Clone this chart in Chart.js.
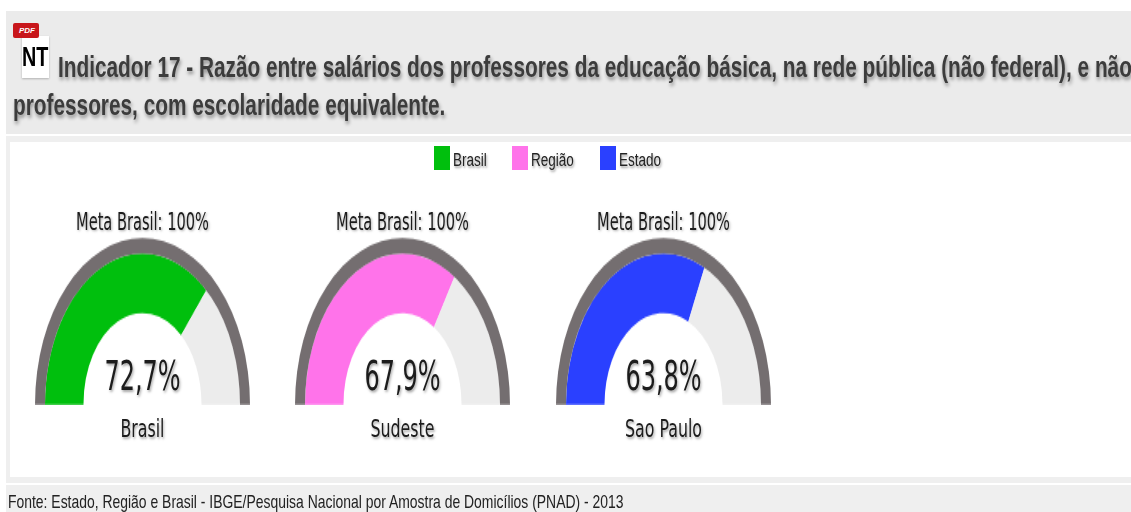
<!DOCTYPE html>
<html lang="pt">
<head>
<meta charset="utf-8">
<title>Indicador 17</title>
<script src="https://cdn.jsdelivr.net/npm/chart.js@4/dist/chart.umd.min.js"></script>
<style>
html, body { margin: 0; padding: 0; background: #fff; overflow: hidden; }
#page { position: relative; width: 1131px; height: 512px; overflow: hidden; }
.box { position: absolute; }
.txt { position: absolute; white-space: nowrap; transform-origin: left top; }
.titulo { font: bold 20px "Liberation Sans", Arial, sans-serif; color: #3c3c3c; text-shadow: 1px 2px 3px rgba(0,0,0,.4); filter: blur(0.3px); }
.legenda { font: 13px "Liberation Sans", Arial, sans-serif; color: #222; text-shadow: 1px 1px 2px rgba(0,0,0,.4); }
.gauge { font-family: "DejaVu Sans", sans-serif; color: #1c1c1c; text-shadow: 1px 1px 2px rgba(0,0,0,.35); text-align: center; transform-origin: center top; }
.fonte { font: 14px "Liberation Sans", Arial, sans-serif; color: #222; filter: blur(0.3px); }
canvas { position: absolute; transform-origin: center bottom; }
</style>
</head>
<body>
<div id="page">
    <div class="box" style="left:6px;top:11px;width:1125px;height:123px;background:#ebebeb"></div>
    <div class="box" style="left:6px;top:136px;width:1125px;height:347px;background:#efefef"></div>
    <div class="box" style="left:10px;top:142px;width:1121px;height:335px;background:#fff"></div>
    <div class="box" style="left:6px;top:485px;width:1125px;height:27px;background:#efefef"></div>

    <div class="box" style="left:22px;top:36px;width:27px;height:42px;background:#fff;box-shadow:0 1px 2px rgba(0,0,0,.25)"></div>
    <div class="box" style="left:13px;top:23px;width:26px;height:15px;background:#c8161b;border-radius:2px"></div>
    <div class="txt" style="left:19px;top:26px;font:italic bold 8px 'Liberation Sans';color:#fff">PDF</div>
    <div class="txt" style="left:22px;top:41px;font:bold 22px 'Liberation Sans';color:#000;transform:scale(0.9,1.25)">NT</div>

    <div class="txt titulo" style="left:58px;top:50px;transform:scale(1.04,1.5)">Indicador 17 - Razão entre salários dos professores da educação básica, na rede pública (não federal), e não</div>
    <div class="txt titulo" style="left:13px;top:88px;transform:scale(1.04,1.5)">professores, com escolaridade equivalente.</div>

    <div id="legenda"></div>
    <div id="gauges"></div>

    <div class="txt fonte" style="left:8px;top:491px;transform:scale(0.995,1.3)">Fonte: Estado, Região e Brasil - IBGE/Pesquisa Nacional por Amostra de Domicílios (PNAD) - 2013</div>
</div>
<script>
"use strict";
var categorias = ["Brasil", "Sudeste", "Sao Paulo"];
var valores = [72.7, 67.9, 63.8];
var metaBrasil = 100;
var legendaNomes = ["Brasil", "Região", "Estado"];
var cores = ["#00bf0d", "#ff73ea", "#2a40ff"];
var corRestante = "#ececec";
var corAnel = "#746e70";

// posicoes na tela
var centros = [142.5, 402.5, 663.5];
var legendaX = [434, 512, 600];
var base = 405;
var escalaY = 1.55;

function addEl(pai, classe, css, texto) {
    var el = document.createElement("div");
    el.className = classe;
    el.style.cssText = css;
    if (texto) {
        el.textContent = texto;
    }
    pai.appendChild(el);
    return el;
}

var legenda = document.getElementById("legenda");
for (var i = 0; i < legendaNomes.length; i++) {
    addEl(legenda, "box", "left:" + legendaX[i] + "px;top:146px;width:16px;height:24px;background:" + cores[i]);
    addEl(legenda, "txt legenda", "left:" + (legendaX[i] + 19) + "px;top:150px;transform:scale(1.04,1.35)", legendaNomes[i]);
}

var gauges = document.getElementById("gauges");
for (var i = 0; i < categorias.length; i++) {
    var cx = centros[i];
    var canvas = document.createElement("canvas");
    canvas.width = 215;
    canvas.height = 108;
    canvas.style.cssText = "left:" + (cx - 107.5) + "px;top:" + (base - 108) + "px;width:215px;height:108px;transform:scaleY(" + escalaY + ")";
    gauges.appendChild(canvas);

    new Chart(canvas.getContext("2d"), {
        type: "doughnut",
        data: {
            labels: [categorias[i], "Restante"],
            datasets: [
                { data: [metaBrasil], backgroundColor: [corAnel], borderWidth: 0, weight: 10 },
                { data: [valores[i], metaBrasil - valores[i]], backgroundColor: [cores[i], corRestante], borderWidth: 0, weight: 38.5 }
            ]
        },
        options: {
            responsive: false,
            animation: false,
            rotation: -90,
            circumference: 180,
            cutout: "54.9%",
            radius: 107.5,
            events: [],
            plugins: { legend: { display: false }, tooltip: { enabled: false } }
        }
    });

    var caixa = "left:" + (cx - 100) + "px;width:200px;";
    addEl(gauges, "txt gauge", caixa + "top:206px;font-size:14.6px;transform:scaleY(1.7)", "Meta Brasil: " + metaBrasil + "%");
    addEl(gauges, "txt gauge", caixa + "top:353px;font-size:24px;transform:scaleY(1.7)", valores[i].toFixed(1).replace(".", ",") + "%");
    addEl(gauges, "txt gauge", caixa + "top:413px;font-size:15.8px;transform:scaleY(1.6)", categorias[i]);
}
</script>
</body>
</html>
